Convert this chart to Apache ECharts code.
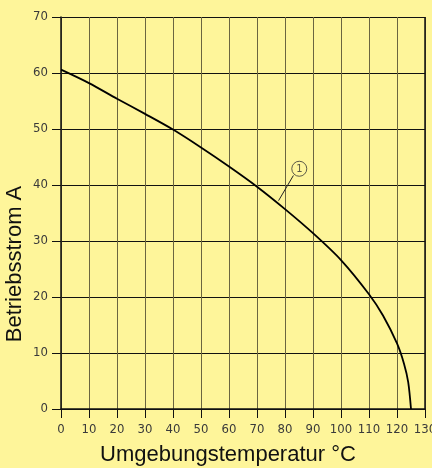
<!DOCTYPE html>
<html><head><meta charset="utf-8">
<script src="https://cdn.jsdelivr.net/npm/echarts@6/dist/echarts.min.js"></script>
<style>html,body{margin:0;padding:0;background:#fef59a;}#c{width:432px;height:468px;}</style>
</head><body><div id="c"></div>
<script>
var temps = [0,10,20,30,40,50,60,70,80,90,100,110,115,120,122.5,124,125];
var currents = [60.6,58.2,55.4,52.7,49.9,46.7,43.3,39.7,35.7,31.4,26.6,20.5,16.7,11.7,8.1,4.8,0];
var leaderX = [77.7, 83.0];
var leaderY = [37.2, 41.7];
var markerX = [85.1];
var markerY = [42.9];
var markerLabel = ['1'];
var xName = 'Umgebungstemperatur °C';
var yName = 'Betriebsstrom A';

var chart = echarts.init(document.getElementById('c'), null, {renderer:'canvas'});
var tickFont = {fontFamily:'"Liberation Sans Narrow", "DejaVu Sans Condensed"', fontSize:13, color:'#3a3a3a'};
chart.setOption({
  backgroundColor:'#fef59a',
  animation:false,
  grid:{left:61, right:7, top:17, bottom:59, containLabel:false, outerBoundsMode:'none', show:false},
  xAxis:{type:'value', min:0, max:130, interval:10,
    axisLine:{show:true, lineStyle:{color:'#111', width:1.5}},
    axisTick:{show:true, length:9, lineStyle:{color:'#111', width:1}},
    axisLabel:Object.assign({margin:14}, tickFont),
    splitLine:{show:true, lineStyle:{color:'#6b6540', width:1}}},
  yAxis:{type:'value', min:0, max:70, interval:10,
    axisLine:{show:true, lineStyle:{color:'#111', width:1.5}},
    axisTick:{show:true, length:9, lineStyle:{color:'#111', width:1}},
    axisLabel:Object.assign({margin:13}, tickFont),
    splitLine:{show:true, lineStyle:{color:'#111', width:1}}},
  graphic:[
    {type:'text', x:228, y:444, style:{text:xName, font:'22px "Liberation Sans", Arial', fill:'#111', textAlign:'center', textVerticalAlign:'top'}},
    {type:'text', x:4, y:264, rotation:Math.PI/2, style:{text:yName, font:'22px "Liberation Sans", Arial', fill:'#111', textAlign:'center', textVerticalAlign:'top'}}
  ],
  series:[
    {type:'line', data:temps.map(function(t,i){return [t,currents[i]];}), smooth:0.3, showSymbol:false,
     lineStyle:{color:'#000', width:1.8},
     markLine:{silent:true, symbol:'none', label:{show:false}, animation:false,
       lineStyle:{color:'#111', width:1.5, type:'solid'}, data:[{xAxis:130}]}},
    {type:'line', data:leaderX.map(function(t,i){return [t,leaderY[i]];}), showSymbol:false,
     lineStyle:{color:'#222', width:1}},
    {type:'scatter', data:markerX.map(function(t,i){return [t,markerY[i]];}), symbol:'circle', symbolSize:15,
     itemStyle:{color:'#fef59a', borderColor:'#333', borderWidth:1},
     label:{show:true, position:'inside', formatter:function(p){return markerLabel[p.dataIndex];}, fontFamily:'"Liberation Sans Narrow", "DejaVu Sans Condensed"', fontSize:11, color:'#333'}}
  ]
});
</script></body></html>
